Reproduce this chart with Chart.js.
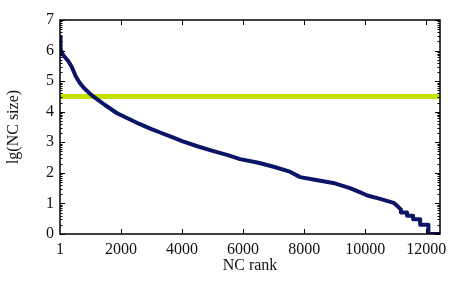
<!DOCTYPE html>
<html>
<head>
<meta charset="utf-8">
<script src="https://cdn.jsdelivr.net/npm/chart.js@4"></script>
<style>
  html, body { margin: 0; padding: 0; background: #fff; }
  #wrap { width: 458px; height: 285px; position: relative; }
</style>
</head>
<body>
<div id="wrap"><canvas id="chart"></canvas></div>
<script>
  // NC rank vs lg(NC size)
  const ranks = [1, 10, 30, 75, 150, 270, 380, 440, 520, 650, 800, 950, 1090, 1300, 1475,
    1870, 2350, 2600, 3000, 3280, 3700, 4000, 4500, 5000, 5500, 5900, 6500,
    7000, 7500, 7870, 8300, 8950, 9500, 9840, 10070, 10490, 10930, 11050, 11170, 11170,
    11370, 11370, 11570, 11570, 11800, 11800, 12070, 12070, 12450];
  const lgSize = [6.45, 6.25, 6.05, 5.9, 5.8, 5.66, 5.48, 5.34, 5.15, 4.94, 4.76, 4.62,
    4.5, 4.35, 4.22, 3.95, 3.72, 3.6, 3.43, 3.32, 3.16, 3.04, 2.87, 2.72, 2.58, 2.45,
    2.33, 2.2, 2.05, 1.86, 1.78, 1.67, 1.5, 1.36, 1.26, 1.15, 1.02, 0.92, 0.8, 0.7, 0.7,
    0.6, 0.6, 0.48, 0.48, 0.3, 0.3, 0, 0];
  const threshold = 4.5;
  const xTicks = [1, 2000, 4000, 6000, 8000, 10000, 12000];
  const yTicks = [0, 1, 2, 3, 4, 5, 6, 7];
  const xMax = 12450;

  const serif = '"Liberation Serif", "DejaVu Serif", serif';

  // inward ticks on all four sides, log-style minor ticks on y
  const frameTicks = {
    id: 'frameTicks',
    afterDraw(chart) {
      const { ctx, chartArea: a, scales: { x, y } } = chart;
      ctx.save();
      ctx.strokeStyle = '#000';
      ctx.lineWidth = 1;
      ctx.beginPath();
      xTicks.forEach((v) => {
        const px = Math.round(x.getPixelForValue(v)) + 0.5;
        if (v === 1) return;
        ctx.moveTo(px, a.bottom); ctx.lineTo(px, a.bottom - 5);
        ctx.moveTo(px, a.top); ctx.lineTo(px, a.top + 5);
      });
      yTicks.forEach((v) => {
        const py = Math.round(y.getPixelForValue(v)) + 0.5;
        ctx.moveTo(a.left, py); ctx.lineTo(a.left + 5, py);
        ctx.moveTo(a.right, py); ctx.lineTo(a.right - 5, py);
        if (v < 7) {
          for (let k = 2; k <= 9; k++) {
            const pm = Math.round(y.getPixelForValue(v + Math.log10(k))) + 0.5;
            ctx.moveTo(a.left, pm); ctx.lineTo(a.left + 2.5, pm);
            ctx.moveTo(a.right, pm); ctx.lineTo(a.right - 2.5, pm);
          }
        }
      });
      ctx.stroke();
      ctx.lineWidth = 1.5;
      ctx.strokeRect(a.left, a.top, a.right - a.left, a.bottom - a.top);
      ctx.restore();
    }
  };

  new Chart(document.getElementById('chart'), {
    type: 'scatter',
    data: {
      datasets: [
        {
          data: [{ x: 1, y: threshold }, { x: xMax, y: threshold }],
          showLine: true,
          borderColor: '#c6e000',
          borderWidth: 5,
          pointRadius: 0,
          order: 2,
        },
        {
          data: ranks.map((r, i) => ({ x: r, y: lgSize[i] })),
          showLine: true,
          borderColor: '#0c1466',
          borderWidth: 4,
          borderJoinStyle: 'round',
          pointRadius: 0,
          order: 1,
        },
      ],
    },
    options: {
      responsive: true,
      maintainAspectRatio: false,
      animation: false,
      layout: { padding: { top: 20, right: 18, left: 4, bottom: 0 } },
      plugins: { legend: { display: false }, tooltip: { enabled: false } },
      scales: {
        x: {
          type: 'linear',
          min: 1,
          max: xMax,
          afterBuildTicks: (s) => { s.ticks = xTicks.map((v) => ({ value: v })); },
          afterFit: (s) => { s.height = 51; },
          grid: { display: false, drawTicks: false },
          border: { display: false },
          ticks: {
            color: '#111',
            padding: 6,
            maxRotation: 0,
            autoSkip: false,
            font: { family: serif, size: 16 },
            callback: (v) => String(v),
          },
          title: {
            display: true,
            text: 'NC rank',
            color: '#111',
            padding: { top: 0, bottom: 10 },
            font: { family: serif, size: 16 },
          },
        },
        y: {
          min: 0,
          max: 7,
          afterBuildTicks: (s) => { s.ticks = yTicks.map((v) => ({ value: v })); },
          afterFit: (s) => { s.width = 56; },
          grid: { display: false, drawTicks: false },
          border: { display: false },
          ticks: {
            color: '#111',
            padding: 6,
            font: { family: serif, size: 16 },
          },
          title: {
            display: true,
            text: 'lg(NC size)',
            color: '#111',
            padding: { top: 0, bottom: 8 },
            font: { family: serif, size: 16 },
          },
        },
      },
    },
    plugins: [frameTicks],
  });
</script>
</body>
</html>
